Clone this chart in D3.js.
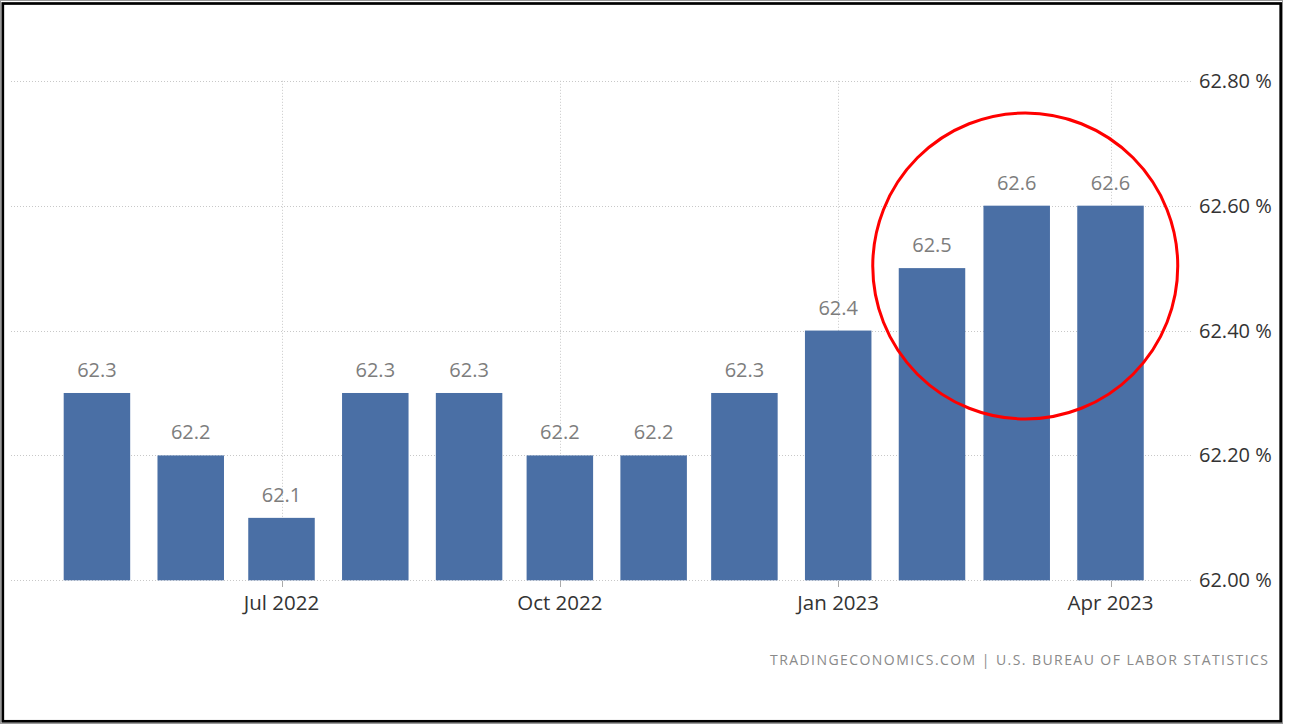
<!DOCTYPE html>
<html>
<head>
<meta charset="utf-8">
<script src="https://cdn.jsdelivr.net/npm/d3@7"></script>
<style>
  html, body { margin: 0; padding: 0; background: #fff; }
  svg { display: block; }
</style>
</head>
<body>
<svg id="chart" width="1290" height="724"></svg>
<script>
const months = ["2022-05-01","2022-06-01","2022-07-01","2022-08-01","2022-09-01","2022-10-01","2022-11-01","2022-12-01","2023-01-01","2023-02-01","2023-03-01","2023-04-01"];
const values = [62.3, 62.2, 62.1, 62.3, 62.3, 62.2, 62.2, 62.3, 62.4, 62.5, 62.6, 62.6];
const xTickDates = ["2022-07-01", "2022-10-01", "2023-01-01", "2023-04-01"];
const xTickLabels = ["Jul 2022", "Oct 2022", "Jan 2023", "Apr 2023"];
const yTicks = [62.0, 62.2, 62.4, 62.6, 62.8];
const highlighted = ["2023-02-01", "2023-03-01", "2023-04-01"];
const sourceText = "TRADINGECONOMICS.COM  |  U.S. BUREAU OF LABOR STATISTICS";

const svg = d3.select("#chart");
const font = "'Open Sans', 'DejaVu Sans', sans-serif";
const parse = d3.utcParse("%Y-%m-%d");

const x = d3.scaleUtc().domain([parse("2022-07-01"), parse("2023-04-01")]).range([281.5, 1110.5]);
const barW = 66.5;
const y = d3.scaleLinear().domain([62.0, 62.8]).range([580.3, 80.8]);
const cx = s => x(parse(s));

// horizontal dotted gridlines
svg.append("g").selectAll("line").data(yTicks).join("line")
  .attr("x1", 11).attr("x2", 1192)
  .attr("y1", d => Math.round(y(d)) + 0.5).attr("y2", d => Math.round(y(d)) + 0.5)
  .attr("stroke", "#c8c8c8").attr("stroke-width", 1).attr("stroke-dasharray", "1,2");

// vertical dotted gridlines at labeled months
svg.append("g").selectAll("line").data(xTickDates).join("line")
  .attr("x1", d => Math.round(cx(d)) + 0.5)
  .attr("x2", d => Math.round(cx(d)) + 0.5)
  .attr("y1", y(62.8)).attr("y2", y(62.0))
  .attr("stroke", "#c8c8c8").attr("stroke-width", 1).attr("stroke-dasharray", "1,2");

// bars
svg.append("g").selectAll("rect").data(values).join("rect")
  .attr("x", (d, i) => cx(months[i]) - barW / 2)
  .attr("width", barW)
  .attr("y", d => y(d))
  .attr("height", d => y(62.0) - y(d))
  .attr("fill", "#4a6fa5");

// value labels
svg.append("g").selectAll("text").data(values).join("text")
  .attr("x", (d, i) => cx(months[i]))
  .attr("y", d => y(d) - 16)
  .attr("text-anchor", "middle")
  .attr("font-family", font).attr("font-size", 20)
  .attr("fill", "#7d7d7d")
  .text(d => d.toFixed(1));

// x axis ticks + labels
const xg = svg.append("g");
xg.selectAll("line").data(xTickDates).join("line")
  .attr("x1", d => Math.round(cx(d)) + 0.5)
  .attr("x2", d => Math.round(cx(d)) + 0.5)
  .attr("y1", 581).attr("y2", 587)
  .attr("stroke", "#aaa").attr("stroke-width", 1);
xg.selectAll("text").data(xTickDates).join("text")
  .attr("x", d => cx(d))
  .attr("y", 610)
  .attr("text-anchor", "middle")
  .attr("font-family", font).attr("font-size", 20.5)
  .attr("fill", "#333")
  .text((d, i) => xTickLabels[i]);

// y axis labels
svg.append("g").selectAll("text").data(yTicks).join("text")
  .attr("x", 1199)
  .attr("y", d => y(d) + 7)
  .attr("font-family", font).attr("font-size", 20)
  .attr("fill", "#333")
  .text(d => d.toFixed(2) + " %");

// source
svg.append("text")
  .attr("x", 1268).attr("y", 665)
  .attr("text-anchor", "end")
  .attr("font-family", font).attr("font-size", 14)
  .attr("fill", "#8a8a8a")
  .attr("textLength", 498).attr("lengthAdjust", "spacing")
  .text(sourceText);

// red highlight circle around the last three bars
const hx0 = cx(highlighted[0]), hx1 = cx(highlighted[highlighted.length - 1]);
svg.append("ellipse")
  .attr("cx", (hx0 + hx1) / 2 + 4)
  .attr("cy", 266)
  .attr("rx", 152.5).attr("ry", 153)
  .attr("fill", "none").attr("stroke", "#ff0000").attr("stroke-width", 3);

// frame
svg.append("rect")
  .attr("x", 0.5).attr("y", 0.5).attr("width", 1282).attr("height", 723)
  .attr("fill", "none").attr("stroke", "#999").attr("stroke-width", 1);
svg.append("rect")
  .attr("x", 2.8).attr("y", 3.5).attr("width", 1277.9).attr("height", 717.8)
  .attr("fill", "none").attr("stroke", "#000").attr("stroke-width", 2.7);
</script>
</body>
</html>
